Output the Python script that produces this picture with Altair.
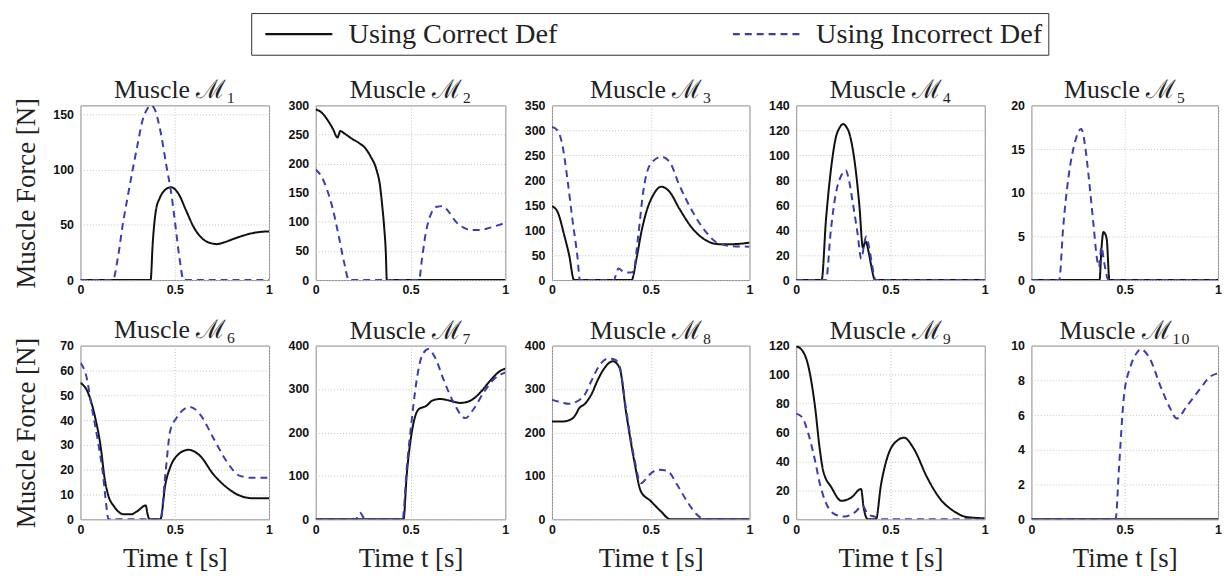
import altair as alt
import pandas as pd

SERIES = ["Using Correct Def", "Using Incorrect Def"]
COLORS = ["#111111", "#3c3cae"]

TITLES = ["Muscle ℳ₁", "Muscle ℳ₂", "Muscle ℳ₃", "Muscle ℳ₄", "Muscle ℳ₅",
          "Muscle ℳ₆", "Muscle ℳ₇", "Muscle ℳ₈", "Muscle ℳ₉", "Muscle ℳ₁₀"]
Y_MAX = [158, 300, 350, 140, 20, 70, 400, 400, 120, 10]
Y_STEP = [50, 50, 50, 20, 5, 10, 100, 100, 20, 2]
X_TICKS = [0, 0.5, 1]

# ---- Muscle 1
M1_T_COR = [0, 0.372, 0.383, 0.4, 0.42, 0.44, 0.48, 0.52, 0.56, 0.6, 0.65, 0.7, 0.72, 0.76, 0.8, 0.85, 0.9, 0.95, 1]
M1_F_COR = [0, 0, 33, 63, 74, 80, 84, 78, 63, 48, 37, 33, 32.5, 34, 36.5, 39.5, 42, 43.5, 44]
M1_T_INC = [0, 0.171, 0.2, 0.224, 0.25, 0.277, 0.3, 0.33, 0.355, 0.374, 0.395, 0.42, 0.459, 0.48, 0.503, 0.525, 0.547, 1]
M1_F_INC = [0, 0, 22, 50, 75, 100, 120, 145, 155, 158, 154, 138, 100, 80, 50, 20, 0, 0]
# ---- Muscle 2
M2_T_COR = [0, 0.03, 0.06, 0.09, 0.115, 0.13, 0.15, 0.19, 0.23, 0.26, 0.29, 0.32, 0.34, 0.35, 0.36, 0.37, 0.375, 1]
M2_F_COR = [293, 288, 276, 260, 245, 256, 252, 243, 235, 227, 212, 190, 160, 130, 95, 45, 0, 0]
M2_T_INC = [0, 0.03, 0.06, 0.09, 0.12, 0.15, 0.175, 0.545, 0.56, 0.58, 0.61, 0.64, 0.67, 0.7, 0.74, 0.78, 0.82, 0.86, 0.9, 0.95, 1]
M2_F_INC = [190, 178, 155, 122, 78, 30, 0, 0, 35, 80, 115, 126, 127, 118, 100, 90, 86, 86, 88, 93, 98]
# ---- Muscle 3
M3_T_COR = [0, 0.028, 0.062, 0.087, 0.112, 0.403, 0.428, 0.453, 0.478, 0.512, 0.553, 0.595, 0.645, 0.712, 0.778, 0.845, 0.912, 1]
M3_F_COR = [148, 137, 90, 50, 0, 0, 43, 97, 137, 170, 187, 177, 143, 103, 80, 72, 72, 75]
M3_T_INC = [0, 0.028, 0.053, 0.078, 0.103, 0.128, 0.142, 0.312, 0.337, 0.362, 0.395, 0.412, 0.437, 0.462, 0.495, 0.553, 0.595, 0.645, 0.712, 0.778, 0.845, 0.912, 1]
M3_F_INC = [307, 300, 270, 203, 123, 50, 0, 0, 23, 17, 15, 17, 90, 177, 230, 247, 237, 190, 137, 97, 73, 68, 67]
# ---- Muscle 4
M4_T_COR = [0, 0.135, 0.158, 0.184, 0.21, 0.23, 0.249, 0.265, 0.281, 0.3, 0.316, 0.335, 0.354, 0.368, 0.385, 0.4, 0.418, 1]
M4_F_COR = [0, 0, 48, 88, 114, 122, 125, 123, 118, 105, 88, 60, 26, 31, 22, 10, 0, 0]
M4_T_INC = [0, 0.158, 0.184, 0.21, 0.24, 0.263, 0.28, 0.298, 0.325, 0.345, 0.36, 0.37, 0.386, 0.405, 0.421, 1]
M4_F_INC = [0, 0, 40, 69, 84, 88, 80, 64, 38, 17, 28, 35, 27, 10, 0, 0]
# ---- Muscle 5
M5_T_COR = [0, 0.365, 0.375, 0.386, 0.395, 0.404, 0.418, 1]
M5_F_COR = [0, 0, 3.5, 5.5, 5.3, 4.6, 0, 0]
M5_T_INC = [0, 0.149, 0.17, 0.2, 0.23, 0.267, 0.29, 0.306, 0.333, 0.351, 0.362, 0.375, 0.39, 0.413, 1]
M5_F_INC = [0, 0, 6, 12, 15.5, 17.3, 15, 12, 6.3, 2.5, 1.5, 3.8, 2, 0, 0]
# ---- Muscle 6
M6_T_COR = [0, 0.04, 0.075, 0.11, 0.127, 0.145, 0.18, 0.232, 0.267, 0.302, 0.346, 0.356, 0.366, 0.424, 0.45, 0.476, 0.511, 0.572, 0.634, 0.703, 0.773, 0.843, 0.913, 1]
M6_F_COR = [55, 51, 42, 27.7, 17, 10.3, 5, 2, 2, 3.3, 5.6, 2, 0, 0, 14, 21, 25.6, 28, 25.6, 18.3, 13, 9.6, 8.5, 8.5]
M6_T_INC = [0, 0.031, 0.058, 0.092, 0.119, 0.136, 0.148, 0.424, 0.45, 0.476, 0.511, 0.581, 0.634, 0.703, 0.773, 0.843, 0.913, 1]
M6_F_INC = [63, 57.7, 46, 31.7, 18.3, 6.3, 0, 0, 18, 35.7, 41, 45.3, 42.3, 33, 23.6, 17.6, 16.7, 16.7]
# ---- Muscle 7
M7_T_COR = [0, 0.463, 0.48, 0.507, 0.542, 0.586, 0.613, 0.657, 0.71, 0.762, 0.815, 0.868, 0.92, 0.974, 1]
M7_F_COR = [0, 0, 102, 201, 253, 262, 273, 277, 273, 268, 273, 292, 319, 342, 347]
M7_T_INC = [0, 0.21, 0.234, 0.26, 0.458, 0.48, 0.507, 0.533, 0.56, 0.595, 0.63, 0.674, 0.727, 0.789, 0.833, 0.886, 0.938, 1]
M7_F_INC = [0, 0, 15, 0, 0, 118, 231, 322, 376, 392, 372, 322, 269, 233, 254, 292, 322, 338]
# ---- Muscle 8
M8_T_COR = [0, 0.05, 0.1, 0.125, 0.135, 0.167, 0.2, 0.233, 0.267, 0.308, 0.342, 0.375, 0.417, 0.45, 0.5, 0.55, 0.6, 1]
M8_F_COR = [225, 225, 231, 245, 254, 266, 288, 322, 349, 364, 349, 247, 133, 64.5, 42, 19, 0, 0]
M8_T_INC = [0, 0.05, 0.083, 0.133, 0.167, 0.2, 0.233, 0.283, 0.317, 0.342, 0.375, 0.417, 0.45, 0.492, 0.533, 0.583, 0.633, 0.683, 0.733, 0.775, 1]
M8_F_INC = [275, 269, 266, 273, 288, 319, 349, 370, 368, 353, 254, 140, 83, 102, 114, 112, 80, 42, 11, 0, 0]
# ---- Muscle 9
M9_T_COR = [0, 0.03, 0.065, 0.1, 0.126, 0.143, 0.187, 0.24, 0.292, 0.344, 0.358, 0.38, 0.423, 0.45, 0.484, 0.537, 0.572, 0.624, 0.694, 0.764, 0.834, 0.904, 1]
M9_F_COR = [119.5, 117, 105.6, 77.8, 47.6, 33.7, 22, 12.8, 15, 21, 8, 0, 0, 24, 43, 54.5, 56.4, 48.7, 29, 14, 5.8, 1.6, 0.7]
M9_T_INC = [0, 0.03, 0.065, 0.1, 0.126, 0.161, 0.205, 0.257, 0.309, 0.353, 0.38, 0.414, 0.458, 1]
M9_F_INC = [73, 70.8, 59, 40.6, 24.4, 10.4, 3.5, 1.9, 4.6, 9.3, 3.5, 1.9, 0, 0]
# ---- Muscle 10
M10_T_COR = [0, 1]
M10_F_COR = [0, 0]
M10_T_INC = [0, 0.451, 0.469, 0.496, 0.531, 0.566, 0.584, 0.637, 0.69, 0.743, 0.779, 0.832, 0.903, 0.956, 1]
M10_F_INC = [0, 0, 2.9, 7.1, 8.8, 9.6, 9.8, 9.2, 7.7, 6.4, 5.8, 6.5, 7.5, 8.2, 8.4]

DATA = [
    (M1_T_COR, M1_F_COR, M1_T_INC, M1_F_INC),
    (M2_T_COR, M2_F_COR, M2_T_INC, M2_F_INC),
    (M3_T_COR, M3_F_COR, M3_T_INC, M3_F_INC),
    (M4_T_COR, M4_F_COR, M4_T_INC, M4_F_INC),
    (M5_T_COR, M5_F_COR, M5_T_INC, M5_F_INC),
    (M6_T_COR, M6_F_COR, M6_T_INC, M6_F_INC),
    (M7_T_COR, M7_F_COR, M7_T_INC, M7_F_INC),
    (M8_T_COR, M8_F_COR, M8_T_INC, M8_F_INC),
    (M9_T_COR, M9_F_COR, M9_T_INC, M9_F_INC),
    (M10_T_COR, M10_F_COR, M10_T_INC, M10_F_INC),
]

COL_WIDTHS = [190, 191, 199, 190, 188]
ROW_HEIGHTS = [176, 175]
TITLE_DY = [[12, 10, 10, 10, 10], [12, 10, 10, 10, 10]]

legend = alt.Legend(
    title=None, orient="none", legendX=172, legendY=-93,
    direction="horizontal", columns=2, columnPadding=168,
    strokeColor="#333333", fillColor="white", padding=6,
    symbolType="M-0.5,0H4.5", symbolSize=729, symbolStrokeWidth=2.2,
    labelFont="Liberation Serif", labelFontSize=28.5, labelLimit=400,
    labelOffset=62, labelColor="#222222",
)

panels = []
for i, (tc, fc, ti, fi) in enumerate(DATA):
    row, col = divmod(i, 5)
    df = pd.DataFrame({
        "t": tc + ti,
        "f": fc + fi,
        "series": [SERIES[0]] * len(tc) + [SERIES[1]] * len(ti),
    })
    x_axis_kw = dict(values=X_TICKS, format="~g", labelFlush=False, labelPadding=4)
    if row == 1:
        x_axis_kw["title"] = "Time t [s]"
    else:
        x_axis_kw["title"] = None
    y_vals = list(range(0, Y_MAX[i] + 1, Y_STEP[i]))
    y_axis_kw = dict(values=y_vals, format="d", labelPadding=7, minExtent=30, maxExtent=30)
    if col == 0:
        y_axis_kw["title"] = "Muscle Force [N]"
    else:
        y_axis_kw["title"] = None
    ch = alt.Chart(df, title=alt.Title(TITLES[i], dy=TITLE_DY[row][col])).mark_line(
        strokeWidth=2, clip=True, interpolate="monotone"
    ).encode(
        x=alt.X("t:Q", scale=alt.Scale(domain=[0, 1], nice=False), axis=alt.Axis(**x_axis_kw)),
        y=alt.Y("f:Q", scale=alt.Scale(domain=[0, Y_MAX[i]], nice=False, zero=True), axis=alt.Axis(**y_axis_kw)),
        color=alt.Color("series:N", scale=alt.Scale(domain=SERIES, range=COLORS), legend=legend),
        strokeDash=alt.StrokeDash("series:N", scale=alt.Scale(domain=SERIES, range=[[1, 0], [7, 5]]), legend=legend),
        order=alt.Order("series_idx:Q"),
    ).transform_calculate(
        series_idx="datum.series == 'Using Correct Def' ? 0 : 1"
    ).properties(width=COL_WIDTHS[col], height=ROW_HEIGHTS[row])
    panels.append(ch)

chart = alt.concat(
    *panels, columns=5, spacing={"row": 66, "column": 47}, bounds="flush", align="each"
).properties(
    padding={"left": 4, "top": 2, "right": 0, "bottom": 0}
).configure_view(
    stroke="#8a8a8a", strokeWidth=1
).configure_axis(
    grid=True, gridColor="#c4c4c4", gridDash=[1, 2], gridWidth=1,
    domain=False, ticks=False,
    labelFont="Liberation Sans", labelFontWeight="bold", labelFontSize=12.5, labelColor="#111111",
    titleFont="Liberation Serif", titleFontSize=27, titleFontWeight="normal", titleColor="#222222",
    titlePadding=10,
).configure_legend(
    labelFont="Liberation Serif", labelFontSize=28.5, labelColor="#222222", labelLimit=400,
).configure_title(
    font="Liberation Serif", fontSize=26, fontWeight="normal", color="#222222",
    anchor="middle", offset=6, baseline="alphabetic",
)

chart.save("out.html", embed_options={"renderer": "svg", "actions": False})
